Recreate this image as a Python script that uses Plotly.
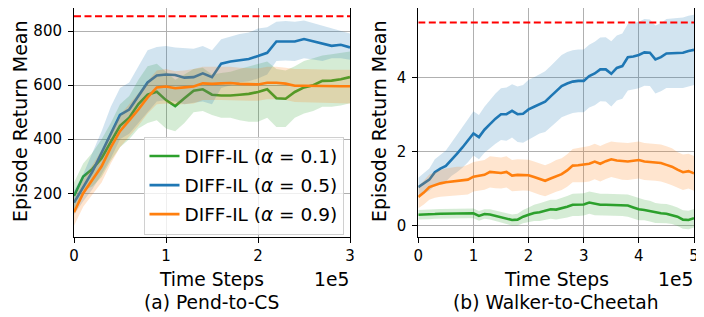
import plotly.graph_objects as go

# ---------------- data ----------------
# (a) Pend-to-CS, time steps in units of 1e5
x_a = [round(i * 0.1, 1) for i in range(31)]
a_green_mean = [190, 262, 290, 330, 390, 450, 480, 530, 565, 576, 545, 523, 552, 580, 585, 565,
                562, 562, 565, 568, 575, 585, 552, 550, 575, 592, 600, 616, 617, 622, 630]
a_green_hi = [240, 310, 350, 400, 460, 530, 560, 620, 670, 680, 650, 620, 640, 660, 665, 640,
              645, 650, 660, 670, 680, 688, 660, 655, 670, 690, 700, 710, 715, 720, 725]
a_green_lo = [140, 210, 225, 260, 320, 370, 400, 440, 460, 470, 440, 430, 460, 500, 505, 490,
              480, 480, 470, 465, 465, 480, 445, 445, 480, 495, 505, 520, 520, 525, 533]
a_blue_mean = [165, 220, 280, 350, 420, 490, 510, 560, 610, 636, 640, 638, 628, 630, 644, 630,
               680, 688, 693, 697, 708, 720, 762, 763, 762, 771, 762, 755, 746, 750, 740]
a_blue_hi = [210, 270, 350, 430, 520, 590, 610, 670, 730, 742, 745, 740, 738, 735, 745, 730,
             770, 780, 790, 795, 810, 815, 835, 838, 835, 840, 830, 820, 812, 800, 792]
a_blue_lo = [120, 170, 215, 270, 330, 400, 420, 460, 500, 540, 545, 540, 530, 535, 540, 530,
             590, 600, 610, 615, 625, 640, 690, 692, 690, 700, 695, 690, 700, 700, 694]
a_orange_mean = [130, 200, 250, 300, 370, 430, 470, 510, 555, 592, 595, 589, 592, 595, 607, 605,
                 607, 608, 605, 603, 603, 609, 609, 606, 598, 598, 597, 598, 597, 596, 596]
a_orange_hi = [180, 250, 305, 360, 430, 490, 530, 570, 615, 655, 660, 652, 655, 660, 668, 668,
               668, 668, 665, 663, 662, 668, 668, 665, 660, 660, 658, 658, 657, 657, 657]
a_orange_lo = [80, 150, 195, 240, 310, 370, 410, 450, 495, 530, 532, 528, 530, 532, 545, 545,
               545, 546, 544, 543, 543, 548, 548, 545, 538, 536, 535, 535, 534, 533, 532]
a_expert = 855

# (b) Walker-to-Cheetah
x_b = [round(i * 0.1, 1) for i in range(51)]
b_blue_mean = [1.05, 1.15, 1.25, 1.45, 1.55, 1.62, 1.80, 1.95, 2.12, 2.30, 2.50, 2.40, 2.60,
               2.75, 2.90, 3.02, 3.02, 3.11, 3.02, 3.03, 3.15, 3.22, 3.30, 3.36, 3.50, 3.63,
               3.78, 3.85, 3.90, 3.92, 3.92, 4.05, 4.12, 4.23, 4.23, 4.11, 4.27, 4.32, 4.56,
               4.58, 4.62, 4.69, 4.68, 4.50, 4.56, 4.66, 4.67, 4.67, 4.68, 4.73, 4.76]
b_blue_sd = [0.25, 0.28, 0.30, 0.35, 0.38, 0.42, 0.45, 0.50, 0.55, 0.58, 0.60, 0.60, 0.62,
             0.65, 0.68, 0.70, 0.72, 0.72, 0.75, 0.78, 0.80, 0.80, 0.80, 0.82, 0.82, 0.83,
             0.84, 0.85, 0.85, 0.85, 0.85, 0.85, 0.86, 0.86, 0.87, 0.88, 0.88, 0.88, 0.90,
             0.90, 0.90, 0.90, 0.90, 0.92, 0.92, 0.93, 0.93, 0.94, 0.95, 0.95, 0.95]
b_orange_mean = [0.78, 0.90, 1.05, 1.11, 1.15, 1.18, 1.20, 1.22, 1.22, 1.25, 1.33, 1.35, 1.38,
                 1.46, 1.44, 1.43, 1.46, 1.36, 1.38, 1.38, 1.37, 1.32, 1.26, 1.22, 1.28, 1.35,
                 1.40, 1.50, 1.63, 1.64, 1.65, 1.68, 1.74, 1.68, 1.75, 1.80, 1.77, 1.75, 1.74,
                 1.76, 1.78, 1.74, 1.72, 1.72, 1.70, 1.65, 1.60, 1.52, 1.45, 1.48, 1.42]
b_orange_sd = [0.30, 0.32, 0.34, 0.35, 0.36, 0.37, 0.38, 0.38, 0.38, 0.40, 0.40, 0.40, 0.40,
               0.42, 0.42, 0.42, 0.42, 0.42, 0.42, 0.42, 0.42, 0.42, 0.42, 0.42, 0.42, 0.43,
               0.43, 0.44, 0.45, 0.46, 0.47, 0.48, 0.48, 0.48, 0.48, 0.48, 0.49, 0.50, 0.50,
               0.50, 0.50, 0.50, 0.50, 0.50, 0.50, 0.50, 0.50, 0.48, 0.48, 0.47, 0.47]
b_green_mean = [0.30, 0.30, 0.31, 0.32, 0.33, 0.33, 0.34, 0.34, 0.34, 0.34, 0.34, 0.27, 0.32,
                0.31, 0.27, 0.23, 0.20, 0.16, 0.17, 0.25, 0.30, 0.35, 0.37, 0.41, 0.45, 0.44,
                0.47, 0.52, 0.57, 0.57, 0.58, 0.63, 0.59, 0.57, 0.57, 0.57, 0.57, 0.57, 0.55,
                0.50, 0.45, 0.43, 0.40, 0.35, 0.34, 0.33, 0.30, 0.25, 0.17, 0.16, 0.21]
b_green_sd = [0.13, 0.13, 0.13, 0.13, 0.13, 0.13, 0.13, 0.13, 0.13, 0.13, 0.13, 0.13, 0.13,
              0.14, 0.14, 0.15, 0.15, 0.15, 0.16, 0.18, 0.20, 0.22, 0.24, 0.25, 0.26, 0.27,
              0.28, 0.29, 0.30, 0.30, 0.30, 0.30, 0.30, 0.30, 0.30, 0.30, 0.30, 0.30, 0.30,
              0.30, 0.30, 0.28, 0.28, 0.27, 0.26, 0.26, 0.25, 0.25, 0.25, 0.25, 0.25]
b_expert = 5.5

labels = ["DIFF-IL (<i>α</i> = 0.1)", "DIFF-IL (<i>α</i> = 0.5)", "DIFF-IL (<i>α</i> = 0.9)"]
x_ticks_a = [0, 1, 2, 3]
x_ticks_b = [0, 1, 2, 3, 4, 5]
y_ticks_a = [200, 400, 600, 800]
y_ticks_b = [0, 2, 4]

# ---------------- style ----------------
GREEN, BLUE, ORANGE = "#2ca02c", "#1f77b4", "#ff7f0e"
FILLS = {GREEN: "rgba(44,160,44,0.2)", BLUE: "rgba(31,119,180,0.2)", ORANGE: "rgba(255,127,14,0.2)"}
FONT = "DejaVu Sans"
OFF = 8                      # page body margin of the browser
W, H = 704 - OFF, 317 - OFF  # figure size so that it fits the window


def px(p):
    return (p - OFF) / W


def py(p):
    return 1 - (p - OFF) / H


fig = go.Figure()


def add_series(x, mean, lo, hi, color, name, xa, ya, show):
    fig.add_trace(go.Scatter(
        x=list(x) + list(x)[::-1], y=list(hi) + list(lo)[::-1],
        fill="toself", fillcolor=FILLS[color], line=dict(width=0),
        mode="lines", hoverinfo="skip", showlegend=False, xaxis=xa, yaxis=ya))
    fig.add_trace(go.Scatter(
        x=x, y=mean, mode="lines", line=dict(color=color, width=2.6),
        name=name, showlegend=show, legendgroup=name, xaxis=xa, yaxis=ya))


series_a = [
    (a_green_mean, a_green_lo, a_green_hi, GREEN),
    (a_blue_mean, a_blue_lo, a_blue_hi, BLUE),
    (a_orange_mean, a_orange_lo, a_orange_hi, ORANGE),
]
for (m, lo, hi, c), lab in zip(series_a, labels):
    add_series(x_a, m, lo, hi, c, lab, "x", "y", True)

series_b = [
    (b_green_mean, b_green_sd, GREEN),
    (b_blue_mean, b_blue_sd, BLUE),
    (b_orange_mean, b_orange_sd, ORANGE),
]
for (m, sd, c), lab in zip(series_b, labels):
    lo = [a - b for a, b in zip(m, sd)]
    hi = [a + b for a, b in zip(m, sd)]
    add_series(x_b, m, lo, hi, c, lab, "x2", "y2", False)

# expert reference lines
fig.add_trace(go.Scatter(x=[x_a[0], x_a[-1]], y=[a_expert, a_expert], mode="lines",
                         line=dict(color="red", width=2, dash="7px,3.5px"),
                         showlegend=False, hoverinfo="skip", xaxis="x", yaxis="y"))
fig.add_trace(go.Scatter(x=[x_b[0], x_b[-1]], y=[b_expert, b_expert], mode="lines",
                         line=dict(color="red", width=2, dash="7px,3.5px"),
                         showlegend=False, hoverinfo="skip", xaxis="x2", yaxis="y2"))

axis_common = dict(
    showline=True, linecolor="black", linewidth=1, mirror=True,
    ticks="outside", ticklen=5, tickwidth=1, tickcolor="black",
    showgrid=True, gridcolor="#b0b0b0", gridwidth=0.8, zeroline=False,
    tickfont=dict(family=FONT, size=15, color="black"), automargin=False,
)

fig.update_layout(
    width=W, height=H,
    margin=dict(l=0, r=0, t=0, b=0, autoexpand=False),
    paper_bgcolor="white", plot_bgcolor="white",
    font=dict(family=FONT, color="black"),
    xaxis=dict(domain=[px(74), px(350)], range=[0, 3], tickvals=x_ticks_a,
               anchor="y", **axis_common),
    yaxis=dict(domain=[py(237), 1], range=[38, 886], tickvals=y_ticks_a,
               anchor="x", ticklabelstandoff=3, **axis_common),
    xaxis2=dict(domain=[px(418.3), px(694)], range=[0, 5], tickvals=x_ticks_b,
                anchor="y2", **axis_common),
    yaxis2=dict(domain=[py(237), 1], range=[-0.3, 5.89], tickvals=y_ticks_b,
                anchor="x2", ticklabelstandoff=3, **axis_common),
    legend=dict(x=px(143.5), y=py(136.5), xanchor="left", yanchor="top",
                bgcolor="rgba(255,255,255,0.8)", bordercolor="#d0d0d0", borderwidth=1,
                font=dict(family=FONT, size=18.5, color="black"),
                tracegroupgap=2, itemwidth=30),
    showlegend=True,
)

ann = []


def txt(text, x, y, size=18.7, angle=0, xanchor="center"):
    ann.append(dict(text=text, x=px(x), y=py(y), xref="paper", yref="paper",
                    showarrow=False, textangle=angle, xanchor=xanchor, yanchor="middle",
                    borderpad=0, font=dict(family=FONT, size=size, color="black")))


txt("Episode Return Mean", 20, 121, size=19, angle=-90)
txt("Episode Return Mean", 379, 121, size=19, angle=-90)
txt("Time Steps", 212, 279)
txt("Time Steps", 556, 279)
txt("1e5", 350, 279, xanchor="right")
txt("1e5", 694, 279, xanchor="right")
txt("(a) Pend-to-CS", 212, 302)
txt("(b) Walker-to-Cheetah", 556, 302)
fig.update_layout(annotations=ann)

fig.write_html("out.html")
